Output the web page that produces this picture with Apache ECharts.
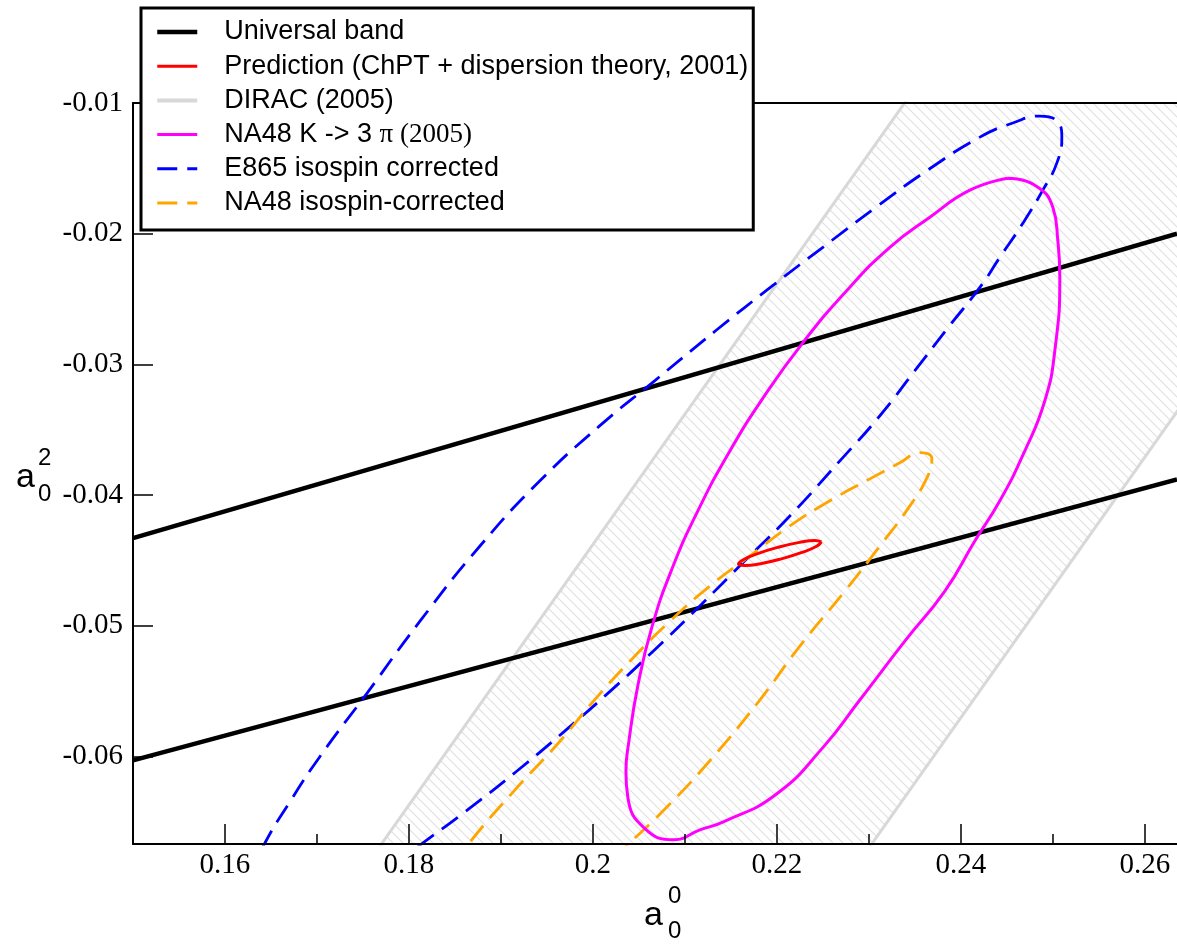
<!DOCTYPE html>
<html>
<head>
<meta charset="utf-8">
<script src="https://cdn.jsdelivr.net/npm/echarts@6/dist/echarts.min.js"></script>
<style>
html,body{margin:0;padding:0;background:#fff;}
#chart{width:1177px;height:944px;}
</style>
</head>
<body>
<div id="chart"></div>
<script>
// ---- tick labels ----
const xMajor = [0.16, 0.18, 0.2, 0.22, 0.24, 0.26];
const xMinor = [0.17, 0.19, 0.21, 0.23, 0.25];
const yTicks = [-0.06, -0.05, -0.04, -0.03, -0.02, -0.01];

// ---- series names ----
const names = [
  'Universal band',
  'Prediction (ChPT + dispersion theory, 2001)',
  'DIRAC (2005)',
  'NA48 K -> 3 π (2005)',
  'E865 isospin corrected',
  'NA48 isospin-corrected'
];

// ---- data (a0^0, a0^2) ----
const universalUpper = [[0.15, -0.0433], [0.2635, -0.0200]];
const universalLower = [[0.15, -0.0603], [0.2635, -0.0388]];

const diracLeft  = [[0.1737, -0.070], [0.2389, -0.005]];
const diracRight = [[0.2270, -0.070], [0.2922, -0.005]];

const prediction = [
  [0.22484, -0.04358], [0.22432, -0.04392], [0.22273, -0.04439], [0.22050, -0.04488],
  [0.21822, -0.04525], [0.21651, -0.04539], [0.21582, -0.04528], [0.21634, -0.04495],
  [0.21792, -0.04448], [0.22015, -0.04399], [0.22245, -0.04362], [0.22414, -0.04347],
  [0.22484, -0.04358]
];

const na48K3pi = [
  [0.24511, -0.01575], [0.24098, -0.01667], [0.23663, -0.01874], [0.23228, -0.02104],
  [0.22761, -0.02434], [0.22283, -0.02833], [0.21859, -0.03247], [0.21478, -0.03676],
  [0.21141, -0.04121], [0.20859, -0.04566], [0.20641, -0.05011], [0.20489, -0.05456],
  [0.20391, -0.05885], [0.20359, -0.06115], [0.20380, -0.06315], [0.20565, -0.06552],
  [0.20880, -0.06637], [0.21163, -0.06562], [0.21424, -0.06498], [0.21989, -0.06291],
  [0.22511, -0.05923], [0.22891, -0.05578], [0.23391, -0.05118], [0.23826, -0.04735],
  [0.24152, -0.04351], [0.24424, -0.04044], [0.24696, -0.03661], [0.24913, -0.03278],
  [0.25022, -0.02894], [0.25076, -0.02334], [0.25054, -0.02051], [0.25000, -0.01798],
  [0.24804, -0.01629], [0.24511, -0.01575]
];

const e865 = [
  [0.16652, -0.07189], [0.16326, -0.07112], [0.16272, -0.06920], [0.16413, -0.06690],
  [0.16707, -0.06345], [0.17033, -0.06000], [0.17543, -0.05517], [0.18120, -0.04965],
  [0.18772, -0.04390], [0.19424, -0.03891], [0.20076, -0.03469], [0.20674, -0.03124],
  [0.21337, -0.02741], [0.21957, -0.02396], [0.22500, -0.02104], [0.23107, -0.01782],
  [0.23639, -0.01514], [0.24207, -0.01261], [0.24565, -0.01153], [0.24859, -0.01100],
  [0.25054, -0.01146], [0.25098, -0.01261], [0.25043, -0.01460], [0.24891, -0.01667],
  [0.24674, -0.01920], [0.24424, -0.02181], [0.24207, -0.02411], [0.23880, -0.02702],
  [0.23500, -0.03048], [0.23120, -0.03393], [0.22685, -0.03738], [0.22141, -0.04160],
  [0.21649, -0.04505], [0.21160, -0.04850], [0.20655, -0.05195], [0.20186, -0.05502],
  [0.19690, -0.05808], [0.19168, -0.06115], [0.18612, -0.06422], [0.18054, -0.06713],
  [0.17739, -0.06882], [0.17250, -0.07074], [0.16652, -0.07189]
];

const na48Iso = [
  [0.18446, -0.07419], [0.18228, -0.07189], [0.18391, -0.06920], [0.18658, -0.06660],
  [0.19141, -0.06265], [0.19630, -0.05893], [0.20005, -0.05578], [0.20402, -0.05271],
  [0.20837, -0.04965], [0.21272, -0.04696], [0.21707, -0.04466], [0.22141, -0.04236],
  [0.22576, -0.04044], [0.23011, -0.03876], [0.23337, -0.03753], [0.23554, -0.03676],
  [0.23685, -0.03722], [0.23641, -0.03853], [0.23446, -0.04083], [0.23120, -0.04390],
  [0.22739, -0.04735], [0.22250, -0.05156], [0.21804, -0.05578], [0.21278, -0.06027],
  [0.20791, -0.06397], [0.20324, -0.06713], [0.19859, -0.07035], [0.19207, -0.07380],
  [0.18446, -0.07419]
];

// ---- chart ----
const X_MIN = 0.15, X_MAX = 0.2635, Y_MIN = -0.0667, Y_MAX = -0.01;

const tile = document.createElement('canvas');
tile.width = 10; tile.height = 10;
(function () {
  const c = tile.getContext('2d');
  c.strokeStyle = '#e0e0e0';
  c.lineWidth = 1.2;
  c.beginPath();
  c.moveTo(-1, -1); c.lineTo(11, 11);
  c.moveTo(-6, 4); c.lineTo(6, 16);
  c.moveTo(4, -6); c.lineTo(16, 6);
  c.stroke();
})();

const chart = echarts.init(document.getElementById('chart'), null, {renderer: 'canvas'});

const serifFont = 'Liberation Serif';
const sansFont = 'Liberation Sans';

function lineSeries(name, data, color, width, type, smooth) {
  return {
    type: 'line', name: name, data: data, symbol: 'none', smooth: smooth,
    lineStyle: {color: color, width: width, type: type},
    itemStyle: {color: color},
    clip: true, animation: false, z: 3
  };
}

const legendWidths = [4.5, 3, 4, 3, 3, 3];

chart.setOption({
  animation: false,
  backgroundColor: '#fff',
  grid: {left: 133, top: 103, right: 0, bottom: 100, containLabel: false},
  xAxis: [
    {
      type: 'value', min: X_MIN, max: X_MAX, position: 'bottom', z: 12,
      axisLine: {show: true, onZero: false, lineStyle: {color: '#000', width: 2}},
      axisTick: {show: true, inside: true, length: 20, customValues: xMajor, lineStyle: {color: '#000', width: 1.5}},
      axisLabel: {show: true, customValues: xMajor, color: '#000', fontFamily: serifFont, fontSize: 29, margin: 7,
        formatter: v => String(+v.toFixed(4))},
      splitLine: {show: false}
    },
    {
      type: 'value', min: X_MIN, max: X_MAX, position: 'bottom', z: 12,
      axisLine: {show: false, onZero: false},
      axisTick: {show: true, inside: true, length: 10, customValues: xMinor, lineStyle: {color: '#000', width: 1.5}},
      axisLabel: {show: false},
      splitLine: {show: false}
    },
    {
      type: 'value', min: X_MIN, max: X_MAX, position: 'top', z: 12,
      axisLine: {show: true, onZero: false, lineStyle: {color: '#000', width: 2}},
      axisTick: {show: false}, axisLabel: {show: false}, splitLine: {show: false}
    }
  ],
  yAxis: [
    {
      type: 'value', min: Y_MIN, max: Y_MAX, position: 'left', z: 12,
      axisLine: {show: true, onZero: false, lineStyle: {color: '#000', width: 2}},
      axisTick: {show: true, inside: true, length: 20, customValues: yTicks, lineStyle: {color: '#000', width: 1.5}},
      axisLabel: {show: true, customValues: yTicks, color: '#000', fontFamily: serifFont, fontSize: 29, margin: 10,
        formatter: v => String(+v.toFixed(4))},
      splitLine: {show: false}
    }
  ],
  legend: {
    data: names.map((n, i) => ({name: n, lineStyle: {width: legendWidths[i]}})),
    orient: 'vertical', left: 141, top: 8,
    padding: [9, 5, 12, 14], itemGap: 4.2, itemWidth: 40, itemHeight: 14,
    backgroundColor: '#fff', borderColor: '#000', borderWidth: 3, borderRadius: 0,
    selectedMode: false, z: 30,
    itemStyle: {opacity: 0},
    textStyle: {
      fontFamily: sansFont, fontSize: 27, color: '#000', lineHeight: 30, padding: [0, 0, 0, 22],
      rich: {serif: {fontFamily: serifFont, fontSize: 27, color: '#000', lineHeight: 30}}
    },
    formatter: n => n.replace('π (2005)', '{serif|π (2005)}')
  },
  graphic: [
    {type: 'text', left: 16, top: 461, z: 40, style: {text: 'a', font: '34px "Liberation Sans"', fill: '#000'}},
    {type: 'text', left: 38, top: 446, z: 40, style: {text: '2', font: '24px "Liberation Sans"', fill: '#000'}},
    {type: 'text', left: 38, top: 482, z: 40, style: {text: '0', font: '24px "Liberation Sans"', fill: '#000'}},
    {type: 'text', left: 644, top: 899, z: 40, style: {text: 'a', font: '34px "Liberation Sans"', fill: '#000'}},
    {type: 'text', left: 668, top: 884, z: 40, style: {text: '0', font: '24px "Liberation Sans"', fill: '#000'}},
    {type: 'text', left: 668, top: 919, z: 40, style: {text: '0', font: '24px "Liberation Sans"', fill: '#000'}}
  ],
  series: [
    {
      type: 'custom', name: 'diracHatch', clip: true, silent: true, z: 1,
      data: [[0]],
      renderItem: function (params, api) {
        const pts = [
          api.coord(diracLeft[0]), api.coord(diracLeft[1]),
          api.coord(diracRight[1]), api.coord(diracRight[0])
        ];
        return {type: 'polygon', shape: {points: pts}, style: {fill: {image: tile, repeat: 'repeat'}, stroke: null}};
      }
    },
    lineSeries(names[2], diracLeft, '#d8d8d8', 3, 'solid', false),
    lineSeries(names[2], diracRight, '#d8d8d8', 3, 'solid', false),
    lineSeries(names[0], universalUpper, '#000000', 4.5, 'solid', false),
    lineSeries(names[0], universalLower, '#000000', 4.5, 'solid', false),
    lineSeries(names[4], e865, '#0000ff', 2.8, [20, 10], true),
    lineSeries(names[5], na48Iso, '#ffa500', 2.8, [20, 10], true),
    lineSeries(names[3], na48K3pi, '#ff00ff', 3, 'solid', true),
    lineSeries(names[1], prediction, '#ff0000', 3, 'solid', true)
  ]
});
</script>
</body>
</html>
